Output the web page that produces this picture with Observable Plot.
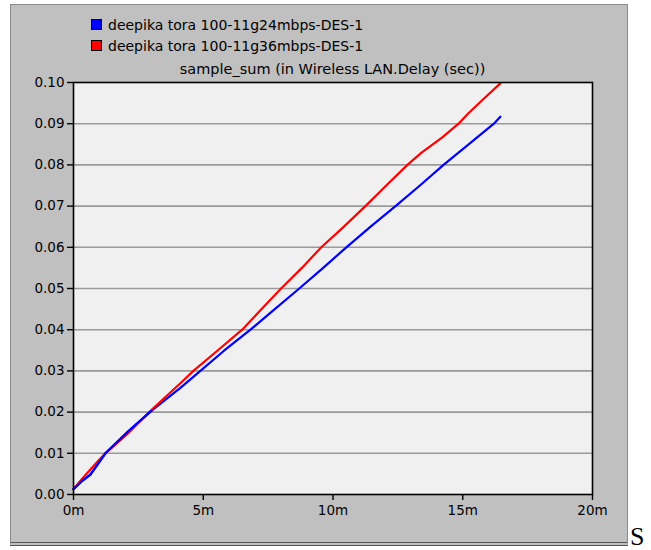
<!DOCTYPE html>
<html>
<head>
<meta charset="utf-8">
<script src="https://cdn.jsdelivr.net/npm/d3@7"></script>
<script src="https://cdn.jsdelivr.net/npm/@observablehq/plot@0.6"></script>
<style>
  html, body { margin: 0; padding: 0; background: #fff; width: 651px; height: 550px; overflow: hidden; }
  #panel { position: absolute; left: 10px; top: 4px; width: 616px; height: 537px; background: #c0c0c0;
           border: 1px solid #8a8a8a; border-bottom: 4px double #555; }
  .txt { font-family: "DejaVu Sans", sans-serif; color: #000; }
  #legend { position: absolute; left: 91px; top: 14px; font-size: 14px; }
  .row { display: flex; align-items: center; height: 21px; }
  .sw { width: 9px; height: 9px; border: 1px solid #000; margin-right: 6px; }
  #title { position: absolute; left: 73px; width: 519px; top: 61px; text-align: center; font-size: 14.5px; }
  #chart { position: absolute; left: 0; top: 62px; }
  #s { position: absolute; left: 630px; top: 522px; font-family: "Liberation Serif", serif; font-size: 26px; color: #000; }
</style>
</head>
<body>
<div id="panel"></div>
<div id="legend" class="txt"></div>
<div id="title" class="txt">sample_sum (in Wireless LAN.Delay (sec))</div>
<div id="chart"></div>
<div id="s">S</div>
<script>
const seriesNames = ["deepika tora 100-11g24mbps-DES-1", "deepika tora 100-11g36mbps-DES-1"];
const seriesColors = ["#0000ff", "#ff0000"];

// sim time (minutes) and delay sample sum (sec)
const blueTime = [0, 0.3, 0.65, 0.85, 1.23, 2.1, 3.0, 4.12, 4.89, 5.8, 6.82, 7.7, 8.7, 9.6, 10.48, 11.45, 12.41, 13.35, 14.26, 15.25, 16.2, 16.45];
const blueDelay = [0.0013, 0.0031, 0.0048, 0.0066, 0.0100, 0.0153, 0.0203, 0.0259, 0.0300, 0.0349, 0.0400, 0.0447, 0.0500, 0.0549, 0.0598, 0.0650, 0.0700, 0.0750, 0.0800, 0.0851, 0.0900, 0.0917];

const redTime = [0, 0.3, 0.6, 1.0, 1.23, 2.1, 3.0, 4.12, 4.62, 5.6, 6.5, 7.25, 8.0, 8.8, 9.55, 10.4, 11.25, 12.1, 12.87, 13.4, 14.2, 14.84, 15.2, 15.8, 16.45];
const redDelay = [0.0013, 0.0036, 0.0057, 0.0085, 0.0100, 0.0148, 0.0205, 0.0270, 0.0300, 0.0352, 0.0400, 0.0450, 0.0500, 0.0550, 0.0600, 0.0649, 0.0700, 0.0753, 0.0800, 0.0829, 0.0866, 0.0900, 0.0924, 0.0960, 0.0998];

const yTicks = [0, 0.01, 0.02, 0.03, 0.04, 0.05, 0.06, 0.07, 0.08, 0.09, 0.10];
const xTicks = [0, 5, 10, 15, 20];
const xTickLabels = ["0m", "5m", "10m", "15m", "20m"];

const blue = blueTime.map((t, i) => ({t, v: blueDelay[i]}));
const red = redTime.map((t, i) => ({t, v: redDelay[i]}));

// legend
const leg = document.getElementById("legend");
seriesNames.forEach((n, i) => {
  const r = document.createElement("div");
  r.className = "row";
  r.innerHTML = `<div class="sw" style="background:${seriesColors[i]}"></div><span>${n}</span>`;
  leg.appendChild(r);
});

const chart = Plot.plot({
  width: 651,
  height: 470,
  marginLeft: 73,
  marginRight: 59,
  marginTop: 20,
  marginBottom: 38,
  style: { fontFamily: "DejaVu Sans, sans-serif", fontSize: "13.5px", color: "#000", background: "transparent", overflow: "visible" },
  x: { domain: [0, 20] },
  y: { domain: [0, 0.1] },
  marks: [
    Plot.frame({ fill: "#f0f0f0", stroke: null }),
    Plot.ruleY(yTicks.filter(d => d > 0 && d < 0.1), { stroke: "#9a9a9a", strokeWidth: 1.6 }),
    Plot.line(blue, { x: "t", y: "v", stroke: seriesColors[0], strokeWidth: 2.2 }),
    Plot.line(red, { x: "t", y: "v", stroke: seriesColors[1], strokeWidth: 2.2 }),
    Plot.line(blue.filter(d => d.t <= 3.2), { x: "t", y: "v", stroke: seriesColors[0], strokeWidth: 2.2 }),
    Plot.frame({ stroke: "#000", strokeWidth: 1.6 }),
    Plot.axisY({ ticks: yTicks, tickFormat: d3.format(".2f"), tickSize: 6, tickPadding: 3, stroke: "#000", strokeWidth: 1.4, label: null }),
    Plot.axisX({ ticks: xTicks, tickFormat: (d) => xTickLabels[xTicks.indexOf(d)], tickSize: 6, tickPadding: 5, stroke: "#000", strokeWidth: 1.4, label: null })
  ]
});
document.getElementById("chart").appendChild(chart);
</script>
</body>
</html>
